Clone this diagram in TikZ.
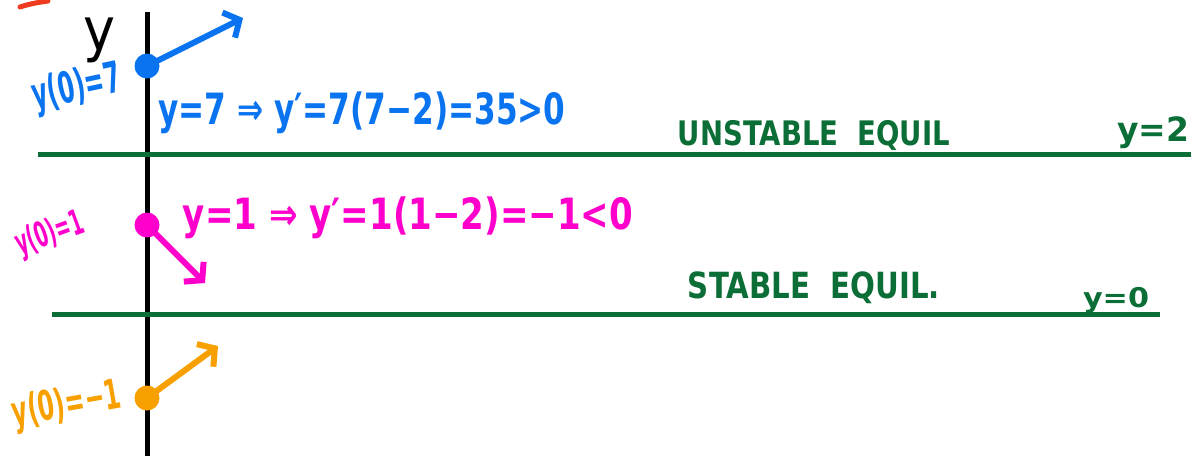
\documentclass[tikz,border=0pt]{standalone}
\usepackage{fontspec}
\setmainfont{DejaVu Sans}
\usetikzlibrary{arrows.meta}
\definecolor{cblue}{HTML}{0A74F0}
\definecolor{cmag}{HTML}{FF00CC}
\definecolor{corange}{HTML}{F7A000}
\definecolor{cgreen}{HTML}{0B6E37}
\definecolor{cred}{HTML}{F03C1E}
\tikzset{
  axisline/.style={line width=5pt, black},
  equline/.style={line width=5pt, cgreen},
  dirarrow/.style={line width=6pt, line cap=round, -{Straight Barb[length=12pt,width=28pt,line width=6pt]}},
  statedot/.style={circle, inner sep=0pt, minimum size=25pt},
  lbl/.style={inner sep=0pt, font=\bfseries, anchor=center},
}
\begin{document}
\begin{tikzpicture}[x=1pt,y=-1pt]
\useasboundingbox (0,0) rectangle (1191,456);
% red mark
\draw[cred, line width=5pt, line cap=round] (20,7) .. controls (32,3) and (42,2) .. (48,1);
% axis
\coordinate (axtop) at (147,12);
\coordinate (axbot) at (147,456);
\draw[axisline] (axtop) -- (axbot);
\node[lbl] (ylab) at (99,40) {\resizebox*{32pt}{45pt}{\textmd{y}}};
% equilibrium lines
\coordinate (e2l) at (38,154); \coordinate (e2r) at (1191,154);
\coordinate (e0l) at (52,314); \coordinate (e0r) at (1160,314);
\draw[equline] (e2l) -- (e2r);
\draw[equline] (e0l) -- (e0r);
\node[lbl, text=cgreen] (unst) at (814,135) {\resizebox*{272pt}{30pt}{UNSTABLE\ \ EQUIL}};
\node[lbl, text=cgreen] (y2) at (1153,133) {\resizebox*{72pt}{32pt}{y=2}};
\node[lbl, text=cgreen] (stab) at (814,288) {\resizebox*{252pt}{32pt}{STABLE\ \ EQUIL.}};
\node[lbl, text=cgreen] (y0) at (1116,300) {\resizebox*{66pt}{26pt}{y=0}};
% blue
\node[statedot, fill=cblue] (d7) at (147,66) {};
\coordinate (a7) at (243,18);
\draw[dirarrow, cblue] (d7.center) -- (a7);
\node[lbl, text=cblue, rotate=12] (l7) at (77,89) {\resizebox*{90pt}{42pt}{y(0)=7}};
\node[lbl, text=cblue] (e7) at (362,113) {\resizebox*{407pt}{42pt}{y=7 ⇒ y′=7(7−2)=35>0}};
% magenta
\node[statedot, fill=cmag] (d1) at (147,225) {};
\coordinate (a1) at (205,283);
\draw[dirarrow, cmag] (d1.center) -- (a1);
\node[lbl, text=cmag, rotate=20] (l1) at (50,235) {\resizebox*{70pt}{34pt}{y(0)=1}};
\node[lbl, text=cmag] (e1) at (408,218) {\resizebox*{450pt}{42pt}{y=1 ⇒ y′=1(1−2)=−1<0}};
% orange
\node[statedot, fill=corange] (dm1) at (147,398) {};
\coordinate (am1) at (218,346);
\draw[dirarrow, corange] (dm1.center) -- (am1);
\node[lbl, text=corange, rotate=10] (lm1) at (67,406) {\resizebox*{110pt}{40pt}{y(0)=−1}};
\end{tikzpicture}
\end{document}
